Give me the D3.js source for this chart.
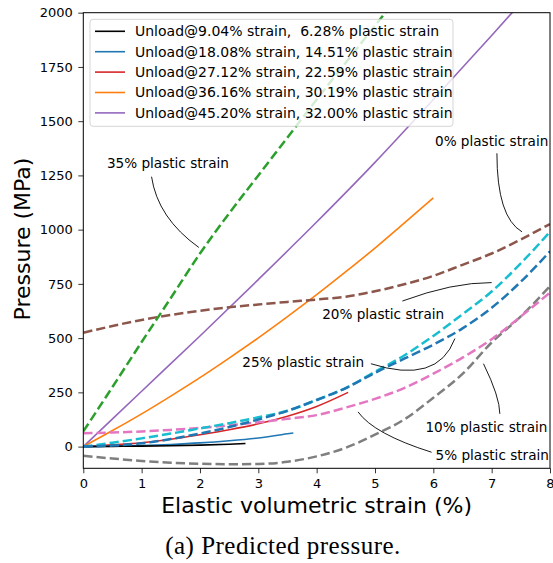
<!DOCTYPE html>
<html>
<head>
<meta charset="utf-8">
<script src="https://cdn.jsdelivr.net/npm/d3@7/dist/d3.min.js"></script>
<style>
  html, body { margin: 0; padding: 0; background: #fff; }
  svg { display: block; }
</style>
</head>
<body>
<div id="chart"></div>
<script>
// ---- Model predictions (dashed): pressure (MPa) vs elastic volumetric strain (%) ----
const strainGrid = [0, 0.5, 1, 1.5, 2, 2.5, 3, 3.5, 4, 4.5, 5, 5.5, 6, 6.5, 7, 7.5, 8];
const pred0  = [525, 556, 584, 607, 626, 642, 655, 667, 678, 691, 716, 748, 787, 838, 890, 955, 1026];
const pred5  = [-42, -55, -66, -74, -79, -81, -80, -70, -45, -5, 55, 125, 225, 335, 480, 600, 740];
const pred10 = [62, 65, 70, 77, 86, 98, 112, 128, 145, 180, 220, 270, 336, 410, 495, 600, 710];
const pred20 = [0, 18, 38, 60, 84, 108, 135, 165, 215, 270, 345, 420, 510, 610, 715, 845, 990];
const pred25 = [0, 5, 15, 35, 60, 90, 125, 165, 215, 270, 340, 405, 470, 545, 640, 760, 900];
const strain35 = [0, 0.5, 1, 1.5, 2, 2.5, 3, 3.5, 4, 4.5, 5, 5.5];
const pred35 = [70, 275, 482, 685, 890, 1075, 1250, 1425, 1600, 1770, 1940, 2110];

// ---- Unloading curves (solid) ----
const unloadStrain1 = [0, 0.5, 1, 1.5, 2, 2.5, 2.78];
const unloadP1      = [0, 1, 2, 4, 7, 11, 14];
const unloadStrain2 = [0, 0.5, 1, 1.5, 2, 2.5, 3, 3.5, 3.6];
const unloadP2      = [0, 2, 5, 10, 17, 27, 40, 59, 63];
const unloadStrain3 = [0, 0.5, 1, 1.5, 2, 2.5, 3, 3.5, 4, 4.54];
const unloadP3      = [0, 8, 18, 34, 55, 78, 105, 140, 185, 250];
const unloadStrain4 = [0, 0.5, 1, 1.5, 2, 2.5, 3, 3.5, 4, 4.5, 5, 5.5, 6];
const unloadP4      = [0, 74, 151, 233, 318, 408, 501, 599, 700, 806, 915, 1030, 1146];
const unloadStrain5 = [0, 1, 2, 3, 4, 5, 6, 7, 7.5];
const unloadP5      = [0, 255, 510, 770, 1035, 1310, 1600, 1895, 2045];

const legendLabels = [
  "Unload@9.04% strain,  6.28% plastic strain",
  "Unload@18.08% strain, 14.51% plastic strain",
  "Unload@27.12% strain, 22.59% plastic strain",
  "Unload@36.16% strain, 30.19% plastic strain",
  "Unload@45.20% strain, 32.00% plastic strain"
];
const xTicks = [0, 1, 2, 3, 4, 5, 6, 7, 8];
const yTicks = [0, 250, 500, 750, 1000, 1250, 1500, 1750, 2000];

// series tables built from the arrays above
const dashed = [
  { xs: strainGrid, ys: pred0,  color: "#8c564b" },
  { xs: strainGrid, ys: pred5,  color: "#7f7f7f" },
  { xs: strainGrid, ys: pred10, color: "#e377c2" },
  { xs: strainGrid, ys: pred20, color: "#17becf" },
  { xs: strainGrid, ys: pred25, color: "#1f77b4" },
  { xs: strain35,   ys: pred35, color: "#2ca02c" }
];
const solid = [
  { xs: unloadStrain1, ys: unloadP1, color: "#000000", label: legendLabels[0] },
  { xs: unloadStrain2, ys: unloadP2, color: "#1f77b4", label: legendLabels[1] },
  { xs: unloadStrain3, ys: unloadP3, color: "#d62728", label: legendLabels[2] },
  { xs: unloadStrain4, ys: unloadP4, color: "#ff7f0e", label: legendLabels[3] },
  { xs: unloadStrain5, ys: unloadP5, color: "#9467bd", label: legendLabels[4] }
];

// annotation callouts: label anchor, leader start, bend control and tip, in data units
const callouts = [
  { text: "35% plastic strain", at: [1.45, 1307], from: [1.17, 1244], ctrl: [1.274, 1054], tip: [1.98, 918] },
  { text: "0% plastic strain",  at: [7.0, 1410],  from: [7.09, 1352], ctrl: [7.09, 1057],  tip: [7.52, 990] },
  { text: "20% plastic strain", at: [5.14, 613],  from: [5.47, 671],  ctrl: [6.33, 757],   tip: [7.0, 756] },
  { text: "25% plastic strain", at: [3.77, 389],  from: [4.93, 382],  ctrl: [6.07, 284],   tip: [6.37, 498] },
  { text: "10% plastic strain", at: [6.91, 92],   from: [7.14, 151],  ctrl: [7.14, 228],   tip: [6.86, 382] },
  { text: "5% plastic strain",  at: [7.01, -38],  from: [5.97, -26],  ctrl: [4.98, 58],    tip: [4.71, 160] }
];

const SANS = "DejaVu Sans, sans-serif";
const SERIF = "Liberation Serif, DejaVu Serif, serif";

const W = 553, H = 563;
const margin = { left: 83.3, right: 3, top: 12.7, bottom: 94.7 };
const pw = W - margin.left - margin.right;
const ph = H - margin.top - margin.bottom;

const svg = d3.select("#chart").append("svg").attr("width", W).attr("height", H);
const g = svg.append("g").attr("transform", `translate(${margin.left},${margin.top})`);

const x = d3.scaleLinear().domain([0, 8]).range([0, pw]);
const y = d3.scaleLinear().domain([-100, 2000]).range([ph, 0]);

svg.append("defs").append("clipPath").attr("id", "plotClip")
  .append("rect").attr("width", pw).attr("height", ph);

const plot = g.append("g").attr("clip-path", "url(#plotClip)");
const line = d3.line().curve(d3.curveMonotoneX);
const pts = s => s.xs.map((v, i) => [x(v), y(s.ys[i])]);

// solid unloading curves
solid.slice().reverse().forEach(s => {
  plot.append("path").attr("d", line(pts(s)))
    .attr("fill", "none").attr("stroke", s.color).attr("stroke-width", 1.6);
});
// dashed model predictions
dashed.forEach(s => {
  plot.append("path").attr("d", line(pts(s)))
    .attr("fill", "none").attr("stroke", s.color).attr("stroke-width", 2.5)
    .attr("stroke-dasharray", "9.25,4");
});

// callout labels and curved leaders
callouts.forEach(c => {
  const p = d3.path();
  p.moveTo(x(c.from[0]), y(c.from[1]));
  p.quadraticCurveTo(x(c.ctrl[0]), y(c.ctrl[1]), x(c.tip[0]), y(c.tip[1]));
  g.append("path").attr("d", p.toString()).attr("fill", "none")
    .attr("stroke", "#000").attr("stroke-width", 0.9);
  g.append("text").attr("x", x(c.at[0])).attr("y", y(c.at[1]))
    .attr("text-anchor", "middle").attr("dominant-baseline", "central")
    .style("font-family", SANS).style("font-size", "13.6px").attr("fill", "#000").text(c.text);
});

// axes
const xAxis = g.append("g").attr("transform", `translate(0,${ph})`)
  .call(d3.axisBottom(x).tickValues(xTicks).tickFormat(d3.format("d")).tickSizeOuter(0).tickSize(5).tickPadding(5));
const yAxis = g.append("g")
  .call(d3.axisLeft(y).tickValues(yTicks).tickFormat(d3.format("d")).tickSizeOuter(0).tickSize(5).tickPadding(5.5));
[xAxis, yAxis].forEach(a => {
  a.select(".domain").remove();
  a.selectAll("text").style("font-size", "13px").style("font-family", SANS).attr("fill", "#000");
  a.selectAll("line").attr("stroke", "#000").attr("stroke-width", 0.8);
});

// frame
g.append("rect").attr("width", pw).attr("height", ph)
  .attr("fill", "none").attr("stroke", "#000").attr("stroke-width", 1);

// legend
const leg = g.append("g").attr("transform", `translate(${90 - margin.left},${19.3 - margin.top})`);
leg.append("rect").attr("width", 363).attr("height", 107).attr("rx", 3)
  .attr("fill", "#fff").attr("fill-opacity", 0.8)
  .attr("stroke", "#cccccc").attr("stroke-opacity", 0.8).attr("stroke-width", 1);
solid.forEach((s, i) => {
  const yy = 12 + i * 20.4;
  leg.append("line").attr("x1", 5).attr("x2", 35).attr("y1", yy).attr("y2", yy)
    .attr("stroke", s.color).attr("stroke-width", 1.6);
  leg.append("text").attr("x", 45).attr("y", yy).attr("dominant-baseline", "central")
    .style("font-family", SANS).style("font-size", "14px").style("white-space", "pre")
    .attr("fill", "#000").text(s.label);
});

// axis titles
svg.append("text").attr("x", margin.left + pw / 2).attr("y", 505)
  .attr("text-anchor", "middle").attr("dominant-baseline", "central")
  .style("font-family", SANS).style("font-size", "22px").attr("fill", "#000")
  .text("Elastic volumetric strain (%)");
svg.append("text").attr("transform", `translate(22,239) rotate(-90)`)
  .attr("text-anchor", "middle").attr("dominant-baseline", "central")
  .style("font-family", SANS).style("font-size", "22px").attr("fill", "#000")
  .text("Pressure (MPa)");

// caption
svg.append("text").attr("x", 283).attr("y", 545)
  .attr("text-anchor", "middle").attr("dominant-baseline", "central")
  .style("font-family", SERIF).style("font-size", "25px").style("letter-spacing", "0.5px")
  .attr("fill", "#000")
  .text("(a) Predicted pressure.");
</script>
</body>
</html>
